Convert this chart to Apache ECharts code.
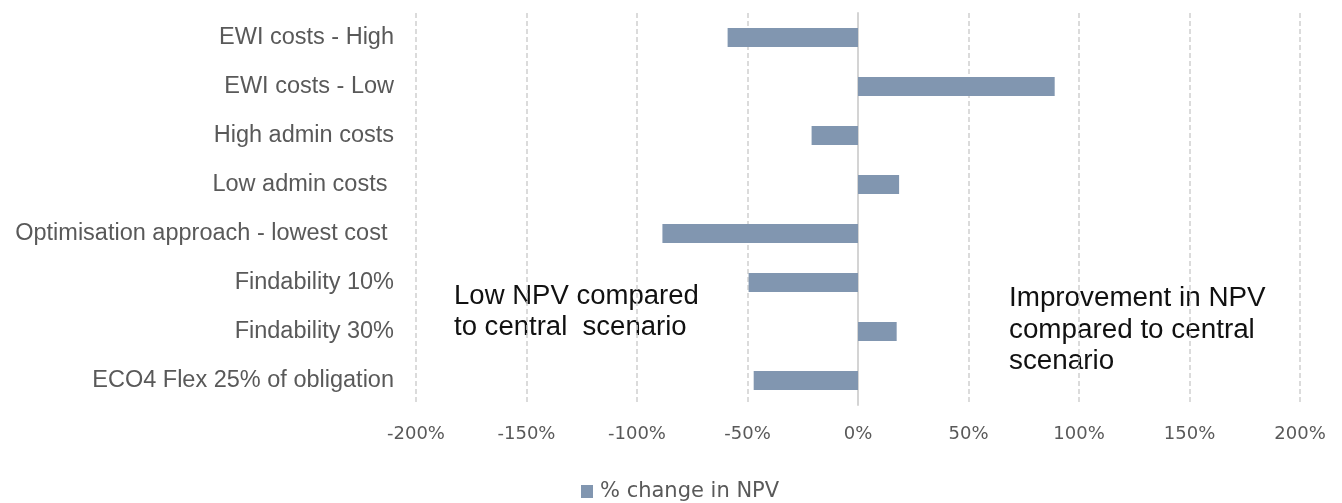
<!DOCTYPE html>
<html>
<head>
<meta charset="utf-8">
<script src="https://cdn.jsdelivr.net/npm/echarts@6/dist/echarts.min.js"></script>
<style>
  html, body { margin: 0; padding: 0; background: #fff; }
  #main { width: 1342px; height: 503px; }
</style>
</head>
<body>
<div id="main"></div>
<script>
// 分类（自上而下）
var categories = [
    'EWI costs - High',
    'EWI costs - Low',
    'High admin costs',
    'Low admin costs ',
    'Optimisation approach - lowest cost ',
    'Findability 10%',
    'Findability 30%',
    'ECO4 Flex 25% of obligation'
];
// % change in NPV
var npvChange = [-59, 89, -21, 18.6, -88.5, -49.5, 17.5, -47.2];
var seriesName = '% change in NPV';
var tickMin = -200, tickMax = 200, tickStep = 50;

var chart = echarts.init(document.getElementById('main'));

var option = {
    animation: false,
    grid: { left: 416, right: 42, top: 13, bottom: 98 },
    legend: {
        data: [seriesName],
        left: 576,
        top: 476,
        itemWidth: 12,
        itemHeight: 13,
        itemGap: 6,
        icon: 'rect',
        textStyle: { fontFamily: 'DejaVu Sans', fontSize: 21, color: '#595959', padding: [0, 0, 0, 2] }
    },
    xAxis: {
        type: 'value',
        min: tickMin,
        max: tickMax,
        interval: tickStep,
        axisLine: { show: false },
        axisTick: { show: false },
        axisLabel: {
            margin: 20,
            fontFamily: 'DejaVu Sans',
            fontSize: 18,
            color: '#595959',
            formatter: function (v) { return v + '%'; }
        },
        splitLine: { show: true, lineStyle: { color: '#d0d0d0', width: 1.5, type: [5, 3] } }
    },
    yAxis: {
        type: 'category',
        data: categories,
        inverse: true,
        axisLine: { show: true, onZero: true, lineStyle: { color: '#d4d4d4', width: 2 } },
        axisTick: { show: false },
        axisLabel: {
            margin: 22,
            fontFamily: 'Liberation Sans',
            fontSize: 23.5,
            color: '#595959'
        }
    },
    series: [{
        name: seriesName,
        type: 'bar',
        data: npvChange,
        barWidth: 19,
        itemStyle: { color: '#8196b0' }
    }],
    graphic: [
        {
            type: 'text',
            left: 454,
            top: 281,
            scaleX: 1.02,
            style: {
                text: 'Low NPV compared\nto central  scenario',
                font: '27px "Liberation Sans"',
                fill: '#111',
                lineHeight: 31
            }
        },
        {
            type: 'text',
            left: 1009,
            top: 283,
            scaleX: 1.03,
            style: {
                text: 'Improvement in NPV\ncompared to central\nscenario',
                font: '27px "Liberation Sans"',
                fill: '#111',
                lineHeight: 31.5
            }
        }
    ]
};

chart.setOption(option);
</script>
</body>
</html>
